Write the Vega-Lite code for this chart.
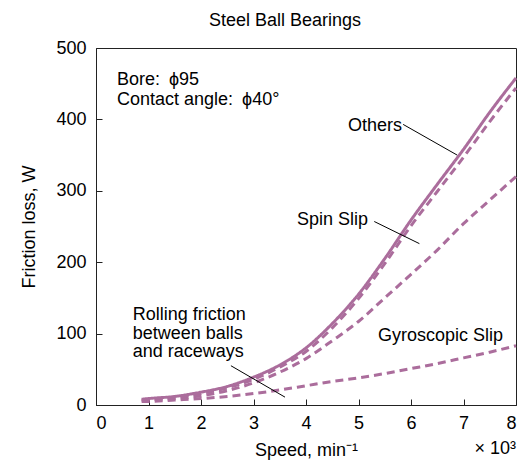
{
  "$schema": "https://vega.github.io/schema/vega-lite/v6.json",
  "width": 420,
  "height": 357,
  "autosize": "none",
  "padding": {"left": 96, "top": 48, "right": 7, "bottom": 62},
  "background": "white",
  "title": {"text": "Steel Ball Bearings", "font": "Liberation Sans", "fontSize": 18, "fontWeight": "normal", "color": "#000", "dx": -21, "offset": -9, "baseline": "bottom"},
  "config": {
    "view": {"stroke": "#222", "strokeWidth": 1},
    "axis": {"grid": false, "domainColor": "#222", "tickColor": "#222", "labelFont": "Liberation Sans", "labelFontSize": 18, "labelColor": "#000", "titleFont": "Liberation Sans", "titleFontSize": 18, "titleFontWeight": "normal", "titleColor": "#000", "tickSize": -6}
  },
  "datasets": {
    "curves": [
      {"series": "Total", "speed": 0.87, "loss": 8}, {"series": "Total", "speed": 1, "loss": 9}, {"series": "Total", "speed": 1.5, "loss": 12}, {"series": "Total", "speed": 2, "loss": 18}, {"series": "Total", "speed": 2.5, "loss": 26}, {"series": "Total", "speed": 3, "loss": 39}, {"series": "Total", "speed": 3.5, "loss": 56}, {"series": "Total", "speed": 4, "loss": 80}, {"series": "Total", "speed": 4.5, "loss": 114}, {"series": "Total", "speed": 5, "loss": 155}, {"series": "Total", "speed": 5.5, "loss": 205}, {"series": "Total", "speed": 6, "loss": 259}, {"series": "Total", "speed": 6.5, "loss": 309}, {"series": "Total", "speed": 7, "loss": 358}, {"series": "Total", "speed": 7.5, "loss": 410}, {"series": "Total", "speed": 8, "loss": 458},
      {"series": "Spin", "speed": 0.87, "loss": 7}, {"series": "Spin", "speed": 1, "loss": 8}, {"series": "Spin", "speed": 1.5, "loss": 11}, {"series": "Spin", "speed": 2, "loss": 16}, {"series": "Spin", "speed": 2.5, "loss": 24}, {"series": "Spin", "speed": 3, "loss": 36}, {"series": "Spin", "speed": 3.5, "loss": 53}, {"series": "Spin", "speed": 4, "loss": 75}, {"series": "Spin", "speed": 4.5, "loss": 108}, {"series": "Spin", "speed": 5, "loss": 149}, {"series": "Spin", "speed": 5.5, "loss": 198}, {"series": "Spin", "speed": 6, "loss": 251}, {"series": "Spin", "speed": 6.5, "loss": 299}, {"series": "Spin", "speed": 7, "loss": 347}, {"series": "Spin", "speed": 7.5, "loss": 397}, {"series": "Spin", "speed": 8, "loss": 444},
      {"series": "Gyro", "speed": 0.87, "loss": 6}, {"series": "Gyro", "speed": 1, "loss": 7}, {"series": "Gyro", "speed": 1.5, "loss": 9}, {"series": "Gyro", "speed": 2, "loss": 13}, {"series": "Gyro", "speed": 2.5, "loss": 20}, {"series": "Gyro", "speed": 3, "loss": 31}, {"series": "Gyro", "speed": 3.5, "loss": 46}, {"series": "Gyro", "speed": 4, "loss": 65}, {"series": "Gyro", "speed": 4.5, "loss": 90}, {"series": "Gyro", "speed": 5, "loss": 117}, {"series": "Gyro", "speed": 5.5, "loss": 150}, {"series": "Gyro", "speed": 6, "loss": 183}, {"series": "Gyro", "speed": 6.5, "loss": 217}, {"series": "Gyro", "speed": 7, "loss": 254}, {"series": "Gyro", "speed": 7.5, "loss": 287}, {"series": "Gyro", "speed": 8, "loss": 320},
      {"series": "Rolling", "speed": 0.87, "loss": 5}, {"series": "Rolling", "speed": 1, "loss": 5}, {"series": "Rolling", "speed": 1.5, "loss": 7}, {"series": "Rolling", "speed": 2, "loss": 9}, {"series": "Rolling", "speed": 2.5, "loss": 12}, {"series": "Rolling", "speed": 3, "loss": 16}, {"series": "Rolling", "speed": 3.5, "loss": 21}, {"series": "Rolling", "speed": 4, "loss": 27}, {"series": "Rolling", "speed": 4.5, "loss": 33}, {"series": "Rolling", "speed": 5, "loss": 38}, {"series": "Rolling", "speed": 5.5, "loss": 44}, {"series": "Rolling", "speed": 6, "loss": 51}, {"series": "Rolling", "speed": 6.5, "loss": 58}, {"series": "Rolling", "speed": 7, "loss": 66}, {"series": "Rolling", "speed": 7.5, "loss": 74}, {"series": "Rolling", "speed": 8, "loss": 83}
    ],
    "labels": [
      {"label": "Bore:\u2002ϕ95", "speed": 0.4, "loss": 455},
      {"label": "Contact angle:\u2002ϕ40°", "speed": 0.4, "loss": 427},
      {"label": "Others", "speed": 4.8, "loss": 391},
      {"label": "Spin Slip", "speed": 3.83, "loss": 259},
      {"label": "Gyroscopic Slip", "speed": 5.37, "loss": 97},
      {"label": "Rolling friction", "speed": 0.7, "loss": 126},
      {"label": "between balls", "speed": 0.7, "loss": 100},
      {"label": "and raceways", "speed": 0.7, "loss": 74}
    ],
    "leaders": [
      {"speed": 5.85, "loss": 393, "speed2": 6.88, "loss2": 350},
      {"speed": 5.3, "loss": 257, "speed2": 6.16, "loss2": 226},
      {"speed": 2.57, "loss": 55, "speed2": 3.6, "loss2": 11}
    ],
    "unit": [{"label": "× 10³", "speed": 8, "loss": -62}]
  },
  "layer": [
    {
      "data": {"name": "curves"},
      "mark": {"type": "line", "interpolate": "monotone", "color": "#ab6d9c", "strokeWidth": 3},
      "encoding": {
        "x": {"field": "speed", "type": "quantitative", "scale": {"domain": [0, 8], "nice": false}, "axis": {"title": "Speed, min⁻¹", "values": [0, 1, 2, 3, 4, 5, 6, 7, 8], "labelPadding": 15, "titlePadding": 9}},
        "y": {"field": "loss", "type": "quantitative", "scale": {"domain": [0, 500], "nice": false}, "axis": {"title": "Friction loss, W", "values": [0, 100, 200, 300, 400, 500], "labelPadding": 16, "titlePadding": 17}},
        "strokeDash": {"field": "series", "type": "nominal", "scale": {"domain": ["Total", "Spin", "Gyro", "Rolling"], "range": [[1, 0], [8, 5], [8, 5], [8, 5]]}, "legend": null}
      }
    },
    {
      "data": {"name": "leaders"},
      "mark": {"type": "rule", "color": "#000", "strokeWidth": 1},
      "encoding": {
        "x": {"field": "speed", "type": "quantitative"},
        "y": {"field": "loss", "type": "quantitative"},
        "x2": {"field": "speed2"},
        "y2": {"field": "loss2"}
      }
    },
    {
      "data": {"name": "labels"},
      "mark": {"type": "text", "align": "left", "baseline": "middle", "font": "Liberation Sans", "fontSize": 18, "color": "#000"},
      "encoding": {
        "x": {"field": "speed", "type": "quantitative"},
        "y": {"field": "loss", "type": "quantitative"},
        "text": {"field": "label"}
      }
    },
    {
      "data": {"name": "unit"},
      "mark": {"type": "text", "align": "right", "baseline": "middle", "font": "Liberation Sans", "fontSize": 18, "color": "#000"},
      "encoding": {
        "x": {"field": "speed", "type": "quantitative"},
        "y": {"field": "loss", "type": "quantitative"},
        "text": {"field": "label"}
      }
    }
  ]
}
